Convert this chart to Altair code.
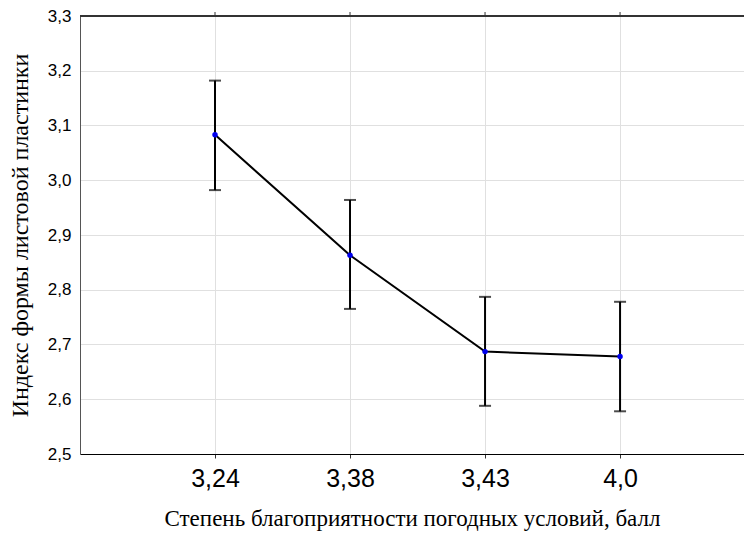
import altair as alt
import pandas as pd

# Leaf blade shape index by weather favourability score
categories = ["3,24", "3,38", "3,43", "4,0"]
positions = [1, 2, 3, 4]
means = [3.083, 2.863, 2.687, 2.678]
upper = [3.182, 2.964, 2.787, 2.778]
lower = [2.982, 2.765, 2.588, 2.578]

df = pd.DataFrame({"pos": positions, "cat": categories, "mean": means,
                   "hi": upper, "lo": lower})

W, H = 664, 438
label_expr = ("datum.value == 1 ? '3,24' : datum.value == 2 ? '3,38' : "
              "datum.value == 3 ? '3,43' : datum.value == 4 ? '4,0' : ''")

x = alt.X("pos:Q", scale=alt.Scale(domain=[0, 4.918], nice=False, zero=False),
          axis=alt.Axis(values=positions, labelExpr=label_expr,
                        title="Степень благоприятности погодных условий, балл",
                        labelFont="Liberation Sans", labelFontSize=25,
                        labelColor="black", labelPadding=8,
                        titleFont="Liberation Serif", titleFontSize=23,
                        titleFontWeight="normal", titleColor="black",
                        titleBaseline="middle", titleY=64,
                        tickSize=4, tickColor="#333",
                        domainColor="black", gridColor="#e0e0e0"))
y = alt.Y("mean:Q", scale=alt.Scale(domain=[2.5, 3.3], nice=False, zero=False),
          axis=alt.Axis(values=[2.5, 2.6, 2.7, 2.8, 2.9, 3.0, 3.1, 3.2, 3.3],
                        format=".1f", labelExpr="replace(datum.label, '.', ',')",
                        title="Индекс формы листовой пластинки",
                        labelFont="Liberation Sans", labelFontSize=17,
                        labelColor="black", labelPadding=9, tickSize=0,
                        titleFont="Liberation Serif", titleFontSize=24,
                        titleFontWeight="normal", titleColor="black",
                        titleBaseline="middle", titleX=-60,
                        domainColor="#555", gridColor="#e0e0e0"))

base = alt.Chart(df)

bars = base.mark_rule(color="black", strokeWidth=2).encode(
    x=x, y=alt.Y("lo:Q"), y2="hi:Q")
caps_hi = base.mark_tick(color="black", orient="horizontal", size=12,
                         thickness=2).encode(x=x, y=alt.Y("hi:Q"))
caps_lo = base.mark_tick(color="black", orient="horizontal", size=12,
                         thickness=2).encode(x=x, y=alt.Y("lo:Q"))
line = base.mark_line(color="black", strokeWidth=2).encode(x=x, y=y)
pts = base.mark_point(filled=True, color="#0000ee", size=30,
                      opacity=1).encode(x=x, y=y)

top_rule = alt.Chart(df).mark_rule(color="#333", strokeWidth=2).encode(
    x=alt.value(0), x2=alt.value(W), y=alt.value(0))
top_ticks = base.mark_rule(color="#333", strokeWidth=1).encode(
    x=x, y=alt.value(0), y2=alt.value(-4))

chart = alt.layer(bars, caps_hi, caps_lo, line, pts, top_rule, top_ticks).properties(
    width=W, height=H,
    autosize=alt.AutoSizeParams(type="none"),
    padding={"left": 80, "top": 16, "right": 0, "bottom": 80},
    background="white",
).configure_view(stroke=None)

chart.save("out.html", embed_options={"renderer": "svg", "actions": False})
